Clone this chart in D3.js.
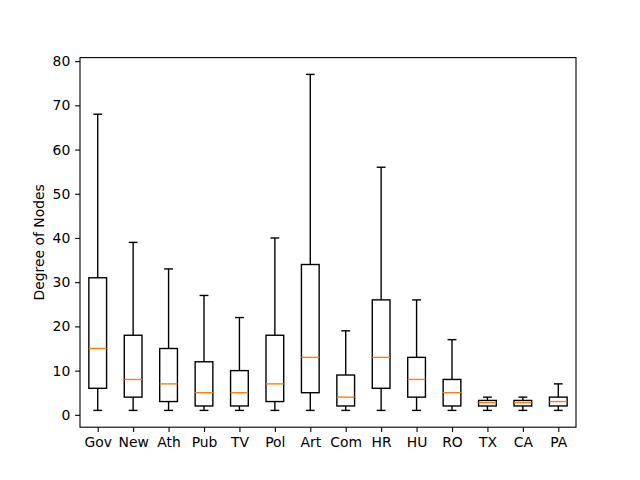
<!DOCTYPE html>
<html>
<head>
<meta charset="utf-8">
<script src="https://cdn.jsdelivr.net/npm/d3@7"></script>
<style>
  body { margin: 0; background: #fff; }
  svg { font-family: "DejaVu Sans", sans-serif; }
</style>
</head>
<body>
<div id="chart"></div>
<script>
// box plot stats
const categories = ["Gov", "New", "Ath", "Pub", "TV", "Pol", "Art", "Com", "HR", "HU", "RO", "TX", "CA", "PA"];
const whiskerLow = [1, 1, 1, 1, 1, 1, 1, 1, 1, 1, 1, 1, 1, 1];
const q1 = [6, 4, 3, 2, 2, 3, 5, 2, 6, 4, 2, 2, 2, 2];
const medians = [15, 8, 7, 5, 5, 7, 13, 4, 13, 8, 5, 2.75, 2.75, 3];
const q3 = [31, 18, 15, 12, 10, 18, 34, 9, 26, 13, 8, 3.25, 3.25, 4];
const whiskerHigh = [68, 39, 33, 27, 22, 40, 77, 19, 56, 26, 17, 4, 4, 7];
const yTicks = [0, 10, 20, 30, 40, 50, 60, 70, 80];

const width = 640, height = 480;
const margin = { top: 57.6, right: 64, bottom: 52.8, left: 80 };
const innerW = width - margin.left - margin.right;
const innerH = height - margin.top - margin.bottom;

const rows = categories.map((c, i) => ({
  name: c, pos: i + 1,
  lo: whiskerLow[i], q1: q1[i], med: medians[i], q3: q3[i], hi: whiskerHigh[i]
}));

const svg = d3.select("#chart").append("svg")
  .attr("width", width)
  .attr("height", height);

const g = svg.append("g")
  .attr("transform", `translate(${margin.left},${margin.top})`);

const x = d3.scaleLinear()
  .domain([0.5, categories.length + 0.5])
  .range([0, innerW]);

const yMin = d3.min(whiskerLow), yMax = d3.max(whiskerHigh);
const pad = (yMax - yMin) * 0.05;
const y = d3.scaleLinear()
  .domain([yMin - pad, yMax + pad])
  .range([innerH, 0]);

const boxW = x(1.25) - x(1);   // half of box width
const capW = x(1.125) - x(1);
const lw = 1.39;

const box = g.selectAll(".box")
  .data(rows)
  .enter()
  .append("g")
  .attr("class", "box");

// whiskers
box.append("line")
  .attr("x1", d => x(d.pos)).attr("x2", d => x(d.pos))
  .attr("y1", d => y(d.lo)).attr("y2", d => y(d.q1))
  .attr("stroke", "black").attr("stroke-width", lw);
box.append("line")
  .attr("x1", d => x(d.pos)).attr("x2", d => x(d.pos))
  .attr("y1", d => y(d.q3)).attr("y2", d => y(d.hi))
  .attr("stroke", "black").attr("stroke-width", lw);

// caps
box.append("line")
  .attr("x1", d => x(d.pos) - capW).attr("x2", d => x(d.pos) + capW)
  .attr("y1", d => y(d.lo)).attr("y2", d => y(d.lo))
  .attr("stroke", "black").attr("stroke-width", lw);
box.append("line")
  .attr("x1", d => x(d.pos) - capW).attr("x2", d => x(d.pos) + capW)
  .attr("y1", d => y(d.hi)).attr("y2", d => y(d.hi))
  .attr("stroke", "black").attr("stroke-width", lw);

// boxes
box.append("rect")
  .attr("x", d => x(d.pos) - boxW)
  .attr("width", boxW * 2)
  .attr("y", d => y(d.q3))
  .attr("height", d => y(d.q1) - y(d.q3))
  .attr("fill", "none")
  .attr("stroke", "black").attr("stroke-width", lw);

// medians
box.append("line")
  .attr("x1", d => x(d.pos) - boxW).attr("x2", d => x(d.pos) + boxW)
  .attr("y1", d => y(d.med)).attr("y2", d => y(d.med))
  .attr("stroke", "#ff7f0e").attr("stroke-width", lw);

// axes
const xAxis = g.append("g")
  .attr("transform", `translate(0,${innerH})`)
  .call(d3.axisBottom(x)
    .tickValues(rows.map(d => d.pos))
    .tickFormat((d, i) => categories[i])
    .tickSize(4.86).tickPadding(4.9));

const yAxis = g.append("g")
  .call(d3.axisLeft(y).tickValues(yTicks).tickSize(4.86).tickPadding(4.9));

[xAxis, yAxis].forEach(a => {
  a.select(".domain").remove();
  a.selectAll(".tick line").attr("stroke", "black").attr("stroke-width", 1.1);
  a.selectAll("text").attr("font-size", "13.9px").attr("fill", "black")
    .attr("font-family", "DejaVu Sans, sans-serif");
});

// frame
g.append("rect")
  .attr("width", innerW).attr("height", innerH)
  .attr("fill", "none")
  .attr("stroke", "black").attr("stroke-width", 1.1);

// y label
svg.append("text")
  .attr("transform", `translate(44,${margin.top + innerH / 2}) rotate(-90)`)
  .attr("text-anchor", "middle")
  .attr("font-size", "13.9px")
  .text("Degree of Nodes");
</script>
</body>
</html>
